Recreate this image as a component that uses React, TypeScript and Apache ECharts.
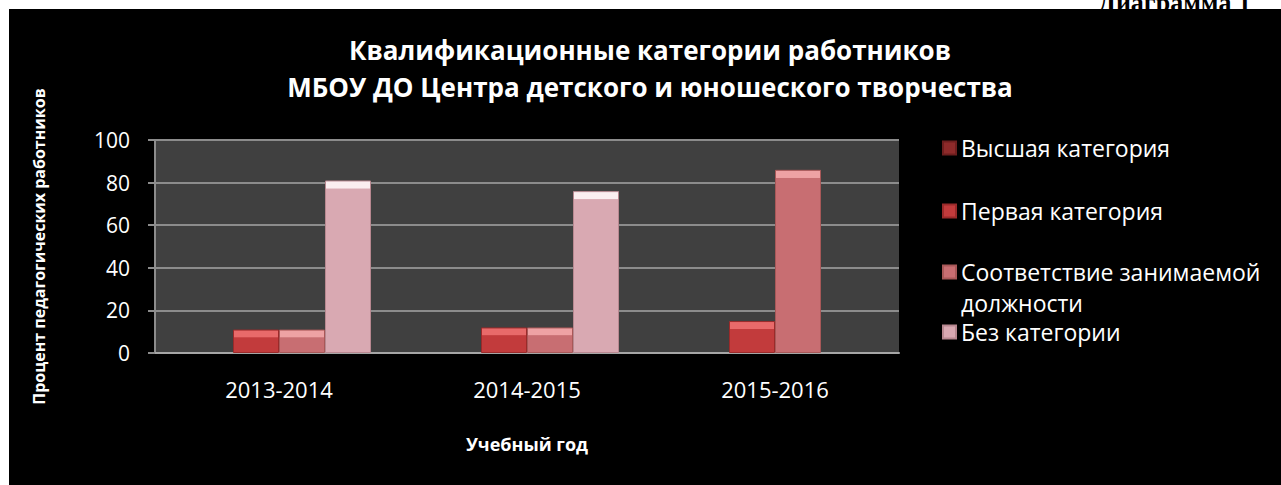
import React, { useEffect, useRef } from "react";
import * as echarts from "echarts";

const categories = ["2013-2014", "2014-2015", "2015-2016"];
const seriesNames = [
  "Высшая категория",
  "Первая категория",
  "Соответствие занимаемой\nдолжности",
  "Без категории",
];
const vysshaya = [0, 0, 0];
const pervaya = [11, 12, 15];
const sootvetstvie = [11, 12, 86];
const bezKategorii = [81, 76, 0];
const yTicks = [0, 20, 40, 60, 80, 100];

const FONT = "Open Sans";

const palettes = [
  { base: "#8e2a2a", light: "#c05050", edge: "#6e1e1e" },
  { base: "#c23b3c", light: "#e86a6a", edge: "#9a2a2a" },
  { base: "#c86e72", light: "#eea2a4", edge: "#a85858" },
  { base: "#d9a9b2", light: "#fbeef0", edge: "#b88890" },
];

function itemStyleFor(p: { base: string; light: string; edge: string }, v: number) {
  const px = Math.max(1, v * 2.13);
  const b = Math.min(0.45, 8 / px);
  return {
    color: new echarts.graphic.LinearGradient(0, 0, 0, 1, [
      { offset: 0, color: p.light },
      { offset: b * 0.9, color: p.light },
      { offset: b, color: p.base },
      { offset: 1, color: p.base },
    ]),
    borderColor: p.edge,
    borderWidth: v > 0 ? 1 : 0,
  };
}

export default function App() {
  const ref = useRef<HTMLDivElement>(null);
  useEffect(() => {
    if (!ref.current) return;
    const chart = echarts.init(ref.current, undefined, { renderer: "svg" });
    const allData = [vysshaya, pervaya, sootvetstvie, bezKategorii];
    const legendTops = [132.5, 195.5, 225.5, 316.5];
    const legends = seriesNames.map((name, i) => ({
      orient: "vertical",
      left: 942,
      top: legendTops[i],
      padding: 0,
      itemWidth: 13,
      itemHeight: 13,
      icon: "rect",
      data: [name],
      formatter: i === 2 ? (n: string) => " \n" + n : undefined,
      textStyle: {
        color: "#ffffff",
        fontSize: 23,
        fontFamily: FONT,
        lineHeight: 31,
      },
    }));
    chart.setOption({
      animation: false,
      backgroundColor: "#ffffff",
      graphic: [
        {
          type: "text",
          x: 1098,
          y: 15,
          z: 0,
          style: {
            text: "Диаграмма 1",
            textAlign: "left",
            textVerticalAlign: "bottom",
            fontFamily: "Liberation Serif",
            fontWeight: "bold",
            fontSize: 26,
            fill: "#000000",
          },
        },
        {
          type: "rect",
          z: 1,
          shape: { x: 9, y: 9, width: 1272, height: 476 },
          style: { fill: "#000000" },
        },
        {
          type: "text",
          x: 650,
          y: 68.5,
          z: 2,
          style: {
            text:
              "Квалификационные категории работников\nМБОУ ДО Центра детского и юношеского творчества",
            textAlign: "center",
            textVerticalAlign: "middle",
            fontFamily: FONT,
            fontWeight: "bold",
            fontSize: 26,
            lineHeight: 37,
            fill: "#ffffff",
          },
        },
      ],
      legend: legends,
      grid: {
        left: 155,
        right: 382,
        top: 140,
        bottom: 132,
        show: true,
        backgroundColor: "#404040",
        borderWidth: 0,
        z: 3,
      },
      xAxis: {
        type: "category",
        data: categories,
        name: "Учебный год",
        nameLocation: "middle",
        nameGap: 82,
        nameTextStyle: {
          color: "#ffffff",
          fontSize: 18,
          fontWeight: "bold",
          fontFamily: FONT,
        },
        axisLine: { show: true, lineStyle: { color: "#a6a6a6", width: 2 } },
        axisTick: { show: false },
        axisLabel: {
          color: "#ffffff",
          fontSize: 22,
          fontFamily: FONT,
          margin: 25,
        },
        z: 5,
      },
      yAxis: {
        type: "value",
        min: 0,
        max: 100,
        interval: 20,
        name: "Процент педагогических работников",
        nameLocation: "middle",
        nameGap: 108,
        nameTextStyle: {
          color: "#ffffff",
          fontSize: 16,
          fontWeight: "bold",
          fontFamily: FONT,
        },
        axisLine: { show: true, lineStyle: { color: "#8c8c8c", width: 2 } },
        axisTick: { show: true, length: 7, lineStyle: { color: "#8c8c8c", width: 2 } },
        splitLine: { show: true, lineStyle: { color: "#8c8c8c", width: 2 } },
        axisLabel: {
          color: "#ffffff",
          fontSize: 21,
          fontFamily: FONT,
          margin: 25,
          formatter: (v: number) => (yTicks.includes(v) ? String(v) : ""),
        },
        z: 5,
      },
      series: allData.map((arr, i) => ({
        name: seriesNames[i],
        type: "bar",
        barWidth: 46,
        barGap: "0%",
        z: 6,
        itemStyle: itemStyleFor(palettes[i], 50),
        data: arr.map((v) => ({ value: v, itemStyle: itemStyleFor(palettes[i], v) })),
      })),
    });
    return () => chart.dispose();
  }, []);
  return (
    <div
      ref={ref}
      style={{ position: "fixed", left: 0, top: 0, width: 1281, height: 485 }}
    />
  );
}
